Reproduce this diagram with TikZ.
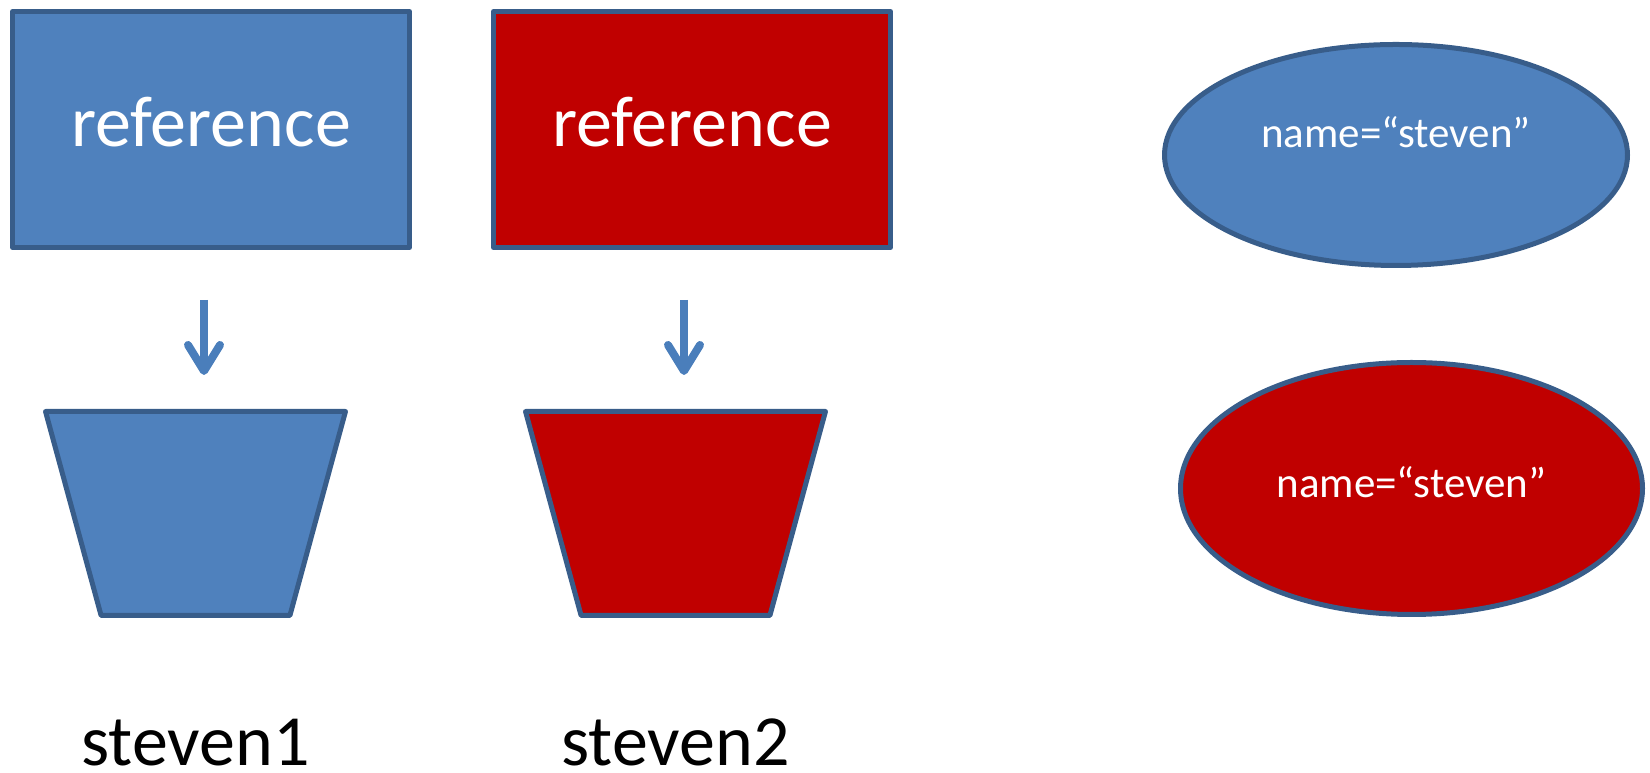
\documentclass[tikz,border=0pt]{standalone}
\usepackage{fontspec}
\setmainfont{Carlito}
\usetikzlibrary{positioning,shapes.geometric,arrows.meta}
\definecolor{boxblue}{HTML}{4F81BD}
\definecolor{boxred}{HTML}{C00000}
\definecolor{edgeblue}{HTML}{385D8A}
\definecolor{arrowblue}{HTML}{4A7EBB}

\begin{document}
\begin{tikzpicture}
            [x=1pt,y=1pt,
            ref/.style={rectangle,draw=edgeblue,line width=5pt,line join=round,minimum width=397pt,minimum height=236pt,text=white,font=\fontsize{72}{80}\selectfont,text height=50pt,text depth=15pt},
            cup/.style={trapezium,draw=edgeblue,line width=5pt,line join=round,shape border rotate=180,trapezium stretches=true,trapezium left angle=73.6,trapezium right angle=73.6,minimum width=300pt,minimum height=204pt},
            obj/.style={ellipse,draw=edgeblue,line width=5pt,text=white,font=\fontsize{43}{50}\selectfont,text height=30pt},
            var/.style={font=\fontsize{72}{80}\selectfont,inner sep=0pt},
            flow/.style={draw=arrowblue,line width=8pt,-{Straight Barb[length=26pt,width=32pt,round]}}]
            \useasboundingbox (0,0) rectangle (1650,773);
            % references
            \node[ref,fill=boxblue] (ref1) at (211,643.5) {reference};
            \node[ref,fill=boxred] (ref2) at (692,643.5) {reference};
            % variables
            \node[cup,fill=boxblue] (cup1) at (195.5,259.5) {};
            \node[cup,fill=boxred] (cup2) at (675.5,259.5) {};
            \node[var,below=147pt of cup1.south,anchor=base] (name1) {steven1};
            \node[var,below=147pt of cup2.south,anchor=base] (name2) {steven2};
            % objects
            \node[obj,fill=boxblue,minimum width=463pt,minimum height=221pt,text depth=44pt] (obj1) at (1396,618) {name=“steven”};
            \node[obj,fill=boxred,minimum width=462pt,minimum height=252pt,text depth=11pt] (obj2) at (1411.5,284.5) {name=“steven”};
            \draw[flow,shorten <=50pt,shorten >=34pt] ([xshift=-7pt]ref1.south) -- ([xshift=8.5pt]cup1.north);
            \draw[flow,shorten <=50pt,shorten >=34pt] ([xshift=-8pt]ref2.south) -- ([xshift=8.5pt]cup2.north);
        \end{tikzpicture}
\end{document}
